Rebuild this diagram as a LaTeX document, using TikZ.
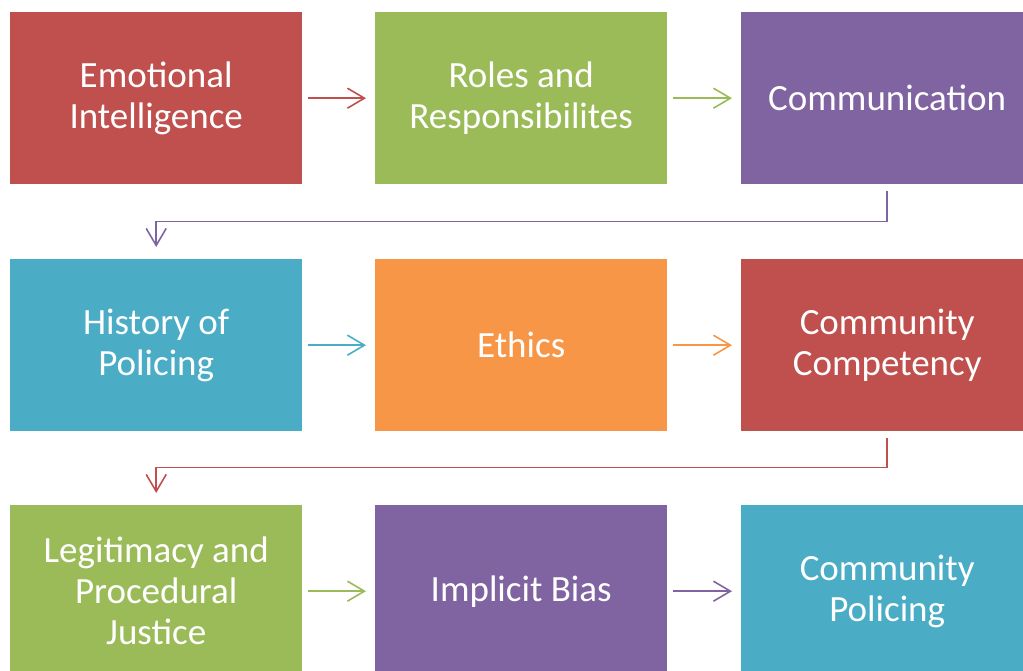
\documentclass[tikz,border=0pt]{standalone}
\usepackage{fontspec}
\setmainfont{Carlito}
\usetikzlibrary{arrows.meta}
\definecolor{cred}{HTML}{C0504D}
\definecolor{cgreen}{HTML}{9BBB59}
\definecolor{cpurple}{HTML}{8064A2}
\definecolor{cblue}{HTML}{4BACC6}
\definecolor{corange}{HTML}{F79646}
\tikzset{
  box/.style={draw=none, minimum width=292pt, minimum height=172pt, inner sep=0pt, text=white, align=center, font=\fontsize{37}{41}\selectfont, anchor=north west},
  conn/.style={line width=1.6pt, -{Straight Barb[length=17pt,width=20pt]}},
}
\begin{document}
\begin{tikzpicture}[x=1pt,y=-1pt]
\useasboundingbox (0,0) rectangle (1023,671);
\node[box, fill=cred] (a) at (10,12) {Emotional\\Intelligence};
\node[box, fill=cgreen] (b) at (375,12) {Roles and\\Responsibilites};
\node[box, fill=cpurple] (c) at (741,12) {Communication};
\node[box, fill=cblue] (d) at (10,259) {History of\\Policing};
\node[box, fill=corange] (e) at (375,259) {Ethics};
\node[box, fill=cred] (f) at (741,259) {Community\\Competency};
\node[box, fill=cgreen] (g) at (10,505) {Legitimacy and\\Procedural\\Justice};
\node[box, fill=cpurple] (h) at (375,505) {Implicit Bias};
\node[box, fill=cblue] (i) at (741,505) {Community\\Policing};
\draw[conn, cred] ([xshift=6pt]a.east) -- ([xshift=-9pt]b.west);
\draw[conn, cgreen] ([xshift=6pt]b.east) -- ([xshift=-9pt]c.west);
\draw[conn, cpurple] ([yshift=-7pt]c.south) -- ++(0,30) -| ([yshift=12pt]d.north);
\draw[conn, cblue] ([xshift=6pt]d.east) -- ([xshift=-9pt]e.west);
\draw[conn, corange] ([xshift=6pt]e.east) -- ([xshift=-9pt]f.west);
\draw[conn, cred] ([yshift=-7pt]f.south) -- ++(0,29) -| ([yshift=12pt]g.north);
\draw[conn, cgreen] ([xshift=6pt]g.east) -- ([xshift=-9pt]h.west);
\draw[conn, cpurple] ([xshift=6pt]h.east) -- ([xshift=-9pt]i.west);
\end{tikzpicture}
\end{document}
